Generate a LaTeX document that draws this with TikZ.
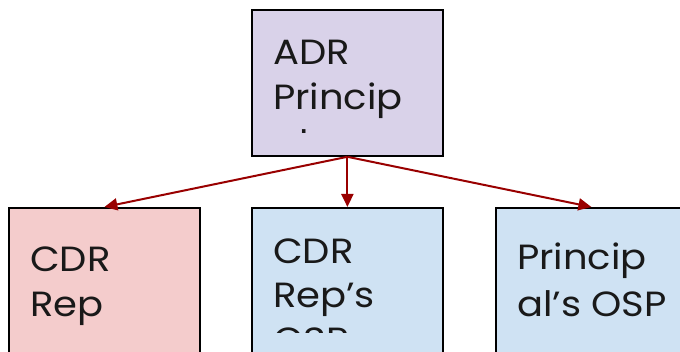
\documentclass[tikz,border=0pt]{standalone}
\usepackage{fontspec}
\setmainfont{Poppins}[FakeStretch=1.1]
\usetikzlibrary{arrows.meta}
\definecolor{boxpurple}{HTML}{D9D2E9}
\definecolor{boxred}{HTML}{F4CCCC}
\definecolor{boxblue}{HTML}{CFE2F3}
\definecolor{arrowred}{HTML}{990000}
\tikzset{
  box/.style={draw=black, line width=1.8pt, rectangle, inner sep=0pt, minimum width=191pt},
  txt/.style={anchor=base west, inner sep=0pt, font=\fontsize{35}{42}\selectfont, text=black!90},
  link/.style={draw=arrowred, line width=2pt, -{Triangle[length=13pt,width=12pt]}}
}
\begin{document}
\begin{tikzpicture}[x=1pt,y=-1pt]
\useasboundingbox (0,0) rectangle (680,352);
\clip (0,0) rectangle (680,352);
% boxes
\node[box, fill=boxpurple, minimum height=146pt, anchor=north west] (adr) at (251,9) {};
\node[box, fill=boxred, minimum height=170pt, anchor=north west] (cdr) at (8,207) {};
\node[box, fill=boxblue, minimum height=170pt, anchor=north west] (cosp) at (251,207) {};
\node[box, fill=boxblue, minimum height=170pt, anchor=north west] (posp) at (495,207) {};
% texts
\begin{scope}
\clip (251,9) rectangle (442,133);
\node[txt] (t1) at (273,65) {ADR};
\node[txt] (t2) at (273,110) {Princip};
\node[txt] (t3) at (273,156) {al};
\end{scope}
\node[txt] (t4) at (30,272) {CDR};
\node[txt] (t5) at (30,317) {Rep};
\begin{scope}
\clip (251,207) rectangle (442,333);
\node[txt] (t6) at (273,264) {CDR};
\node[txt] (t7) at (273,308) {Rep’s};
\node[txt] (t8) at (273,353) {OSP};
\end{scope}
\node[txt] (t9) at (517,270) {Princip};
\node[txt] (t10) at (517,317) {al’s OSP};
% connectors
\draw[link] (adr.south) -- (cdr.north);
\draw[link] (adr.south) -- (cosp.north);
\draw[link] (adr.south) -- (posp.north);
\end{tikzpicture}
\end{document}
